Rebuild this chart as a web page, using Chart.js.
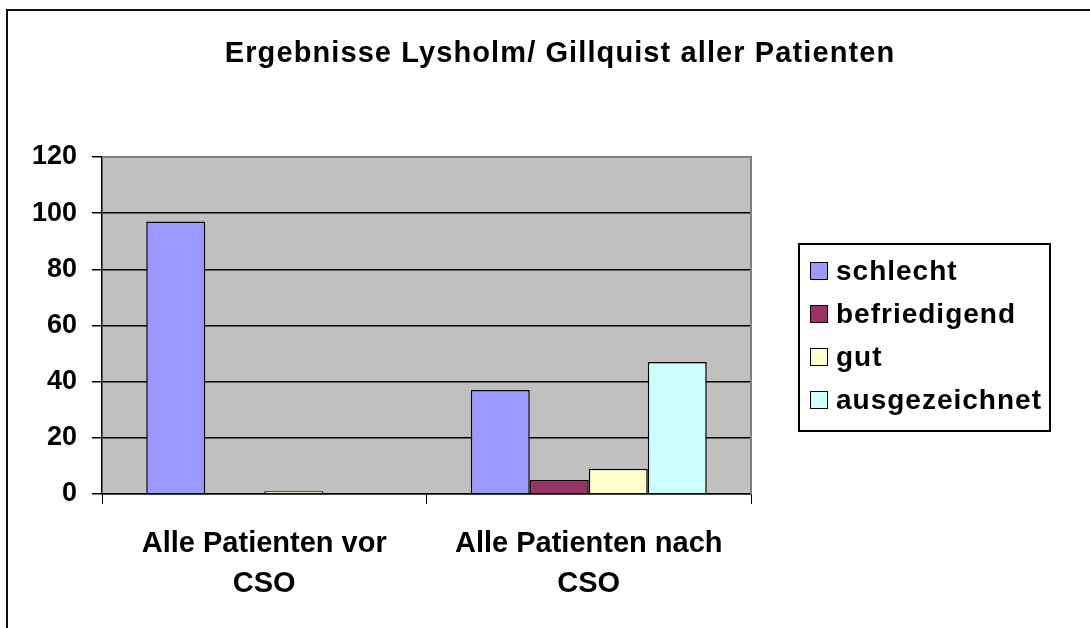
<!DOCTYPE html>
<html>
<head>
<meta charset="utf-8">
<script src="https://cdn.jsdelivr.net/npm/chart.js@4.4.1/dist/chart.umd.min.js"></script>
<style>
  html, body { margin: 0; padding: 0; background: #fff; }
  #wrap { width: 1090px; height: 628px; position: relative; }
</style>
</head>
<body>
<div id="wrap"><canvas id="c" width="1090" height="628"></canvas></div>
<script>
const titleText = 'Ergebnisse Lysholm/ Gillquist aller Patienten';
const categories = [['Alle Patienten vor', 'CSO'], ['Alle Patienten nach', 'CSO']];
const seriesNames = ['schlecht', 'befriedigend', 'gut', 'ausgezeichnet'];
const schlecht = [97, 37];
const befriedigend = [0, 5];
const gut = [1, 9];
const ausgezeichnet = [0, 47];
const yTicks = [0, 20, 40, 60, 80, 100, 120];
const seriesColors = ['#9999FF', '#993366', '#FFFFCC', '#CCFFFF'];

const FONT = '"Liberation Sans", Arial, sans-serif';
const seriesValues = [schlecht, befriedigend, gut, ausgezeichnet];

const decor = {
  id: 'decor',
  beforeDraw(chart) {
    const ctx = chart.ctx, a = chart.chartArea;
    ctx.save();
    ctx.fillStyle = '#fff';
    ctx.fillRect(0, 0, chart.width, chart.height);
    ctx.fillStyle = '#C0C0C0';
    ctx.fillRect(a.left, a.top, a.right - a.left, a.bottom - a.top);
    // outer chart frame
    ctx.fillStyle = '#111';
    ctx.fillRect(6, 9, 2, chart.height - 9);
    ctx.fillRect(6, 9, chart.width - 6, 2);
    ctx.restore();
  },
  afterDatasetsDraw(chart) {
    const ctx = chart.ctx, a = chart.chartArea;
    ctx.save();
    ctx.strokeStyle = '#808080';
    ctx.lineWidth = 2;
    ctx.beginPath();
    ctx.moveTo(a.left, a.top);
    ctx.lineTo(a.right, a.top);
    ctx.lineTo(a.right, a.bottom);
    ctx.stroke();
    // title
    ctx.fillStyle = '#000';
    ctx.font = 'bold 29px ' + FONT;
    ctx.letterSpacing = '1.1px';
    ctx.textAlign = 'center';
    ctx.textBaseline = 'alphabetic';
    ctx.fillText(titleText, 560, 62);
    // legend
    const lx = 799, ly = 244, lw = 251, lh = 187;
    ctx.fillStyle = '#fff';
    ctx.fillRect(lx, ly, lw, lh);
    ctx.strokeStyle = '#000';
    ctx.lineWidth = 2;
    ctx.strokeRect(lx, ly, lw, lh);
    ctx.font = 'bold 28px ' + FONT;
    ctx.letterSpacing = '1px';
    ctx.textAlign = 'left';
    ctx.textBaseline = 'middle';
    chart.data.datasets.forEach((ds, i) => {
      const cy = 271 + i * 43;
      ctx.fillStyle = ds.backgroundColor;
      ctx.fillRect(810, cy - 9, 18, 18);
      ctx.strokeStyle = '#000';
      ctx.lineWidth = 1;
      ctx.strokeRect(810.5, cy - 8.5, 17, 17);
      ctx.fillStyle = '#000';
      ctx.fillText(ds.label, 836, cy + 1);
    });
    ctx.restore();
  }
};

new Chart(document.getElementById('c'), {
  type: 'bar',
  data: {
    labels: categories,
    datasets: seriesNames.map((n, i) => ({
      label: n,
      data: seriesValues[i],
      backgroundColor: seriesColors[i],
      borderColor: '#000',
      borderWidth: 1.5,
      categoryPercentage: 4 / 5.5,
      barPercentage: 1
    }))
  },
  options: {
    responsive: false,
    animation: false,
    devicePixelRatio: 1,
    layout: { padding: { left: 0, top: 157, right: 339, bottom: 0 } },
    plugins: { legend: { display: false }, title: { display: false }, tooltip: { enabled: false } },
    scales: {
      x: {
        afterFit(s) { s.height = 134; },
        grid: { offset: true, drawOnChartArea: false, drawTicks: true, tickLength: 10, color: '#000', lineWidth: 1 },
        border: { color: '#000', width: 1.5 },
        ticks: { color: '#000', font: { family: FONT, size: 29, weight: 'bold', lineHeight: 1.38 }, padding: 20, maxRotation: 0, autoSkip: false }
      },
      y: {
        min: 0, max: 120,
        afterFit(s) { s.width = 102; },
        afterBuildTicks(s) { s.ticks = yTicks.map(v => ({ value: v })); },
        grid: { color: '#000', lineWidth: 1.5, tickLength: 10, drawTicks: true },
        border: { color: '#000', width: 1.5 },
        ticks: { color: '#000', font: { family: FONT, size: 27, weight: 'bold' }, padding: 15 }
      }
    }
  },
  plugins: [decor]
});
</script>
</body>
</html>
